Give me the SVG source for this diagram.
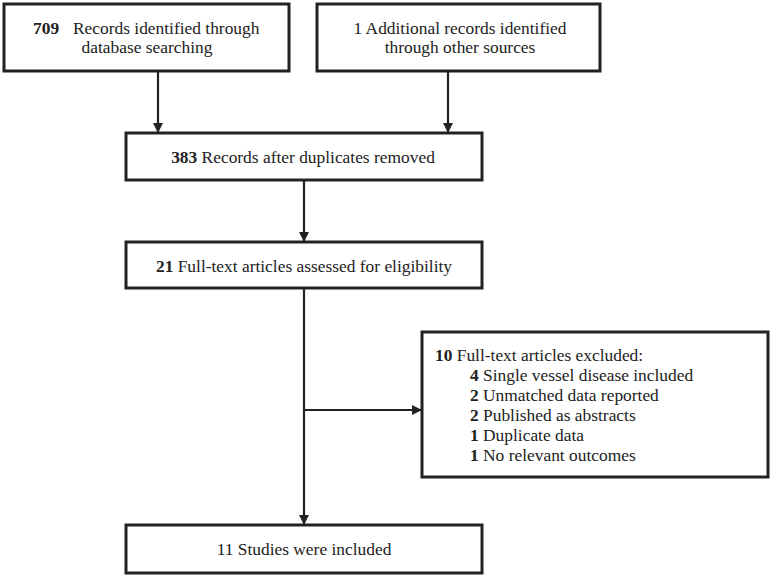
<svg xmlns="http://www.w3.org/2000/svg" width="771" height="577" viewBox="0 0 771 577">
<defs>
<marker id="ah" markerWidth="10" markerHeight="10" refX="9" refY="5" orient="auto" markerUnits="userSpaceOnUse">
<path d="M0,0 L10,5 L0,10 z" fill="#222"/>
</marker>
<style>
.box{fill:#fff;stroke:#222;stroke-width:3}
.t{font-family:"Liberation Serif","Times New Roman",serif;font-size:17.4px;fill:#222}
.b{font-weight:bold}
.ln{stroke:#222;stroke-width:2.2;fill:none}
</style>
</defs>
<rect width="771" height="577" fill="#fff"/>
<g id="connectors">
<line class="ln" x1="158" y1="71" x2="158" y2="132" marker-end="url(#ah)"/>
<line class="ln" x1="448" y1="71" x2="448" y2="132" marker-end="url(#ah)"/>
<line class="ln" x1="304" y1="180" x2="304" y2="241" marker-end="url(#ah)"/>
<line class="ln" x1="304" y1="288" x2="304" y2="524" marker-end="url(#ah)"/>
<line class="ln" x1="304" y1="410" x2="421" y2="410" marker-end="url(#ah)"/>
</g>
<g id="n1">
<rect class="box" x="4" y="4" width="285" height="67"/>
<text class="t" x="33" y="34"><tspan class="b">709</tspan><tspan x="73">Records identified through</tspan></text>
<text class="t" x="147" y="53" text-anchor="middle">database searching</text>
</g>
<g id="n2">
<rect class="box" x="317" y="4" width="283" height="67"/>
<text class="t" x="460" y="34" text-anchor="middle">1 Additional records identified</text>
<text class="t" x="460" y="53" text-anchor="middle">through other sources</text>
</g>
<g id="n3">
<rect class="box" x="126" y="133" width="356" height="47"/>
<text class="t" x="303" y="163" text-anchor="middle"><tspan class="b">383</tspan> Records after duplicates removed</text>
</g>
<g id="n4">
<rect class="box" x="126" y="242" width="356" height="46"/>
<text class="t" x="304" y="272" text-anchor="middle"><tspan class="b">21</tspan> Full-text articles assessed for eligibility</text>
</g>
<g id="n5">
<rect class="box" x="422" y="332" width="346" height="145"/>
<text class="t" x="435" y="361"><tspan class="b">10</tspan> Full-text articles excluded:</text>
<text class="t" x="470" y="381"><tspan class="b">4</tspan> Single vessel disease included</text>
<text class="t" x="470" y="401"><tspan class="b">2</tspan> Unmatched data reported</text>
<text class="t" x="470" y="421"><tspan class="b">2</tspan> Published as abstracts</text>
<text class="t" x="470" y="441"><tspan class="b">1</tspan> Duplicate data</text>
<text class="t" x="470" y="461"><tspan class="b">1</tspan> No relevant outcomes</text>
</g>
<g id="n6">
<rect class="box" x="126" y="525" width="356" height="48"/>
<text class="t" x="304" y="555" text-anchor="middle">11 Studies were included</text>
</g>
</svg>
